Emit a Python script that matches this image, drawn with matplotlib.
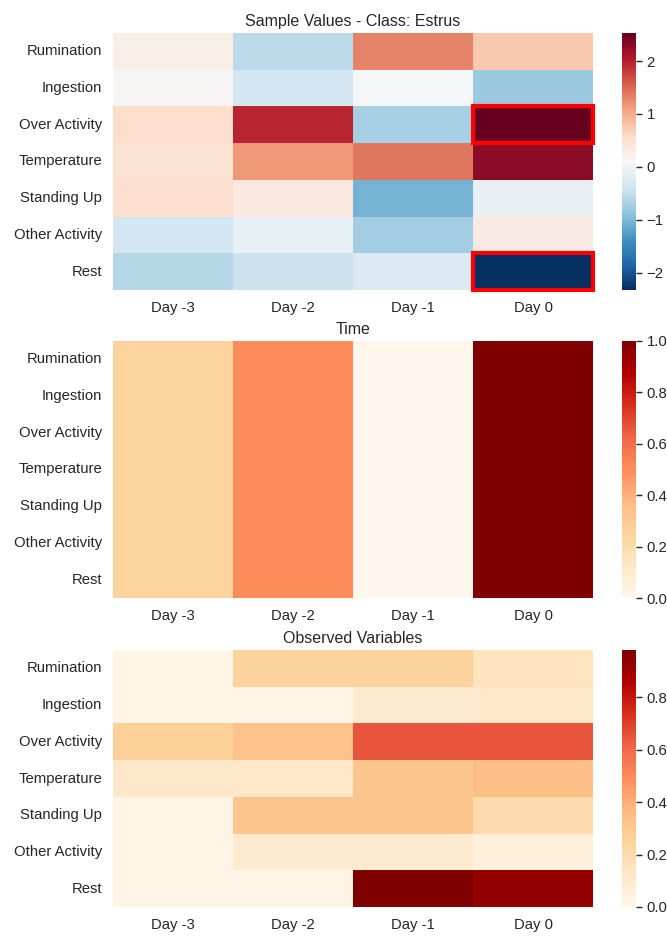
import numpy as np
import matplotlib
matplotlib.use("Agg")
import matplotlib.pyplot as plt
import seaborn as sns
from matplotlib.patches import Rectangle

sns.set_theme(style="white")
plt.rcParams['font.family'] = ['Liberation Sans', 'DejaVu Sans']

variables = ["Rumination", "Ingestion", "Over Activity", "Temperature",
             "Standing Up", "Other Activity", "Rest"]
days = ["Day -3", "Day -2", "Day -1", "Day 0"]

# standardised sample values (rows = variables, cols = days)
sample_values = np.array([
    [0.25, -0.55, 1.30, 0.75],
    [0.12, -0.35, 0.08, -0.80],
    [0.55, 1.95, -0.70, 2.53],
    [0.45, 1.15, 1.40, 2.30],
    [0.50, 0.35, -1.05, -0.08],
    [-0.35, -0.10, -0.75, 0.30],
    [-0.60, -0.42, -0.25, -2.33],
])

# attention over time steps
time_weights = [0.25, 0.50, 0.00, 1.00]

# attention over variables and days
variable_weights = np.array([
    [0.02, 0.25, 0.25, 0.15],
    [0.02, 0.02, 0.10, 0.12],
    [0.27, 0.33, 0.65, 0.65],
    [0.12, 0.12, 0.32, 0.35],
    [0.02, 0.32, 0.32, 0.20],
    [0.02, 0.10, 0.10, 0.06],
    [0.02, 0.02, 0.98, 0.93],
])

W, H = 667, 936
fig = plt.figure(figsize=(W / 100, H / 100), dpi=100)


def px_axes(x0, y0, x1, y1):
    return fig.add_axes([x0 / W, 1 - y1 / H, (x1 - x0) / W, (y1 - y0) / H])


rows = [(33, 290), (341, 598), (650, 907)]
axes = [px_axes(113, r[0], 593, r[1]) for r in rows]
caxes = [px_axes(622, r[0], 636, r[1]) for r in rows]

time_grid = np.tile(time_weights, (len(variables), 1))

panels = [
    (sample_values, "RdBu_r", "Sample Values - Class: Estrus", {}),
    (time_grid, "OrRd", "Time", dict(vmin=0, vmax=1)),
    (variable_weights, "OrRd", "Observed Variables", dict(vmin=0)),
]

for ax, cax, (data, cmap, title, kw) in zip(axes, caxes, panels):
    sns.heatmap(data, ax=ax, cbar_ax=cax, cmap=cmap,
                xticklabels=days, yticklabels=variables, **kw)
    ax.set_title(title, fontsize=11.5, color="#262626", pad=5)
    ax.tick_params(length=0, labelsize=10.7, colors="#262626", pad=8)
    ax.set_yticklabels(variables, rotation=0)
    ax.set_xticklabels(days, rotation=0)
    cax.tick_params(length=4, width=1, labelsize=10.7, colors="#262626")
    for s in cax.spines.values():
        s.set_visible(False)

# highlight the extreme cells in the sample
top = axes[0]
imax = np.unravel_index(np.argmax(sample_values), sample_values.shape)
imin = np.unravel_index(np.argmin(sample_values), sample_values.shape)
for r, c in (imax, imin):
    top.add_patch(Rectangle((c, r), 1, 1, fill=False, edgecolor="red",
                            linewidth=3, clip_on=False))

fig.savefig("out.png", dpi=100)
